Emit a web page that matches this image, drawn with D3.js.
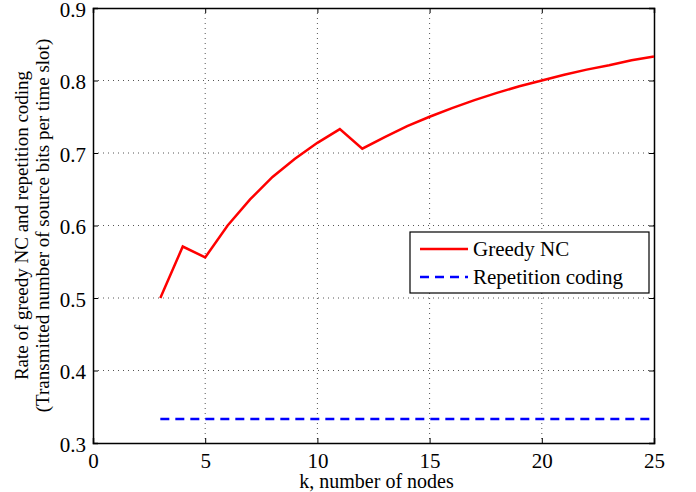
<!DOCTYPE html>
<html>
<head>
<meta charset="utf-8">
<script src="https://cdn.jsdelivr.net/npm/d3@7"></script>
<style>
  body { margin: 0; background: #fff; }
  svg text { font-family: "Liberation Serif", "DejaVu Serif", serif !important; fill: #000; }
</style>
</head>
<body>
<div class="chart"></div>
<script>
var nodes = [3, 4, 5, 6, 7, 8, 9, 10, 11, 12, 13, 14, 15, 16, 17, 18, 19, 20, 21, 22, 23, 24, 25];
var greedyNC = [0.500, 0.571, 0.556, 0.600, 0.636, 0.667, 0.692, 0.714, 0.733, 0.706, 0.722, 0.737,
  0.750, 0.762, 0.773, 0.783, 0.792, 0.800, 0.808, 0.815, 0.821, 0.828, 0.833];
var repetition = [0.333, 0.333, 0.333, 0.333, 0.333, 0.333, 0.333, 0.333, 0.333, 0.333, 0.333, 0.333,
  0.333, 0.333, 0.333, 0.333, 0.333, 0.333, 0.333, 0.333, 0.333, 0.333, 0.333];
var xTicks = [0, 5, 10, 15, 20, 25];
var yTicks = [0.3, 0.4, 0.5, 0.6, 0.7, 0.8, 0.9];

// plot box (window.top is reserved, so use other names)
var pLeft = 93, pRight = 654, pTop = 8, pBottom = 443;

var svg = d3.select('.chart')
  .append('svg')
    .attr('width', 696)
    .attr('height', 492);

var x = d3.scaleLinear().domain([0, 25]).range([pLeft, pRight]);
var y = d3.scaleLinear().domain([0.3, 0.9]).range([pBottom, pTop]);

// dotted grid
svg.append('g')
  .selectAll('line')
  .data(xTicks.slice(1, -1))
  .enter().append('line')
    .attr('x1', d => x(d)).attr('x2', d => x(d))
    .attr('y1', pTop).attr('y2', pBottom)
    .attr('stroke', '#555').attr('stroke-width', 1)
    .attr('stroke-dasharray', '1,4');

svg.append('g')
  .selectAll('line')
  .data(yTicks.slice(1, -1))
  .enter().append('line')
    .attr('x1', pLeft).attr('x2', pRight)
    .attr('y1', d => y(d)).attr('y2', d => y(d))
    .attr('stroke', '#555').attr('stroke-width', 1)
    .attr('stroke-dasharray', '1,4');

// axes with inward ticks, matlab style
var fmtY = d3.format('.1f');
svg.append('g')
  .attr('transform', 'translate(0,' + pBottom + ')')
  .call(d3.axisBottom(x).tickValues(xTicks).tickSize(-5).tickPadding(10))
  .call(g => g.selectAll('text').attr('font-size', 21).attr('dy', '0.71em'));
svg.append('g')
  .attr('transform', 'translate(0,' + pTop + ')')
  .call(d3.axisTop(x).tickValues(xTicks).tickSize(-5).tickFormat(''));
svg.append('g')
  .attr('transform', 'translate(' + pLeft + ',0)')
  .call(d3.axisLeft(y).tickValues(yTicks).tickSize(-5).tickPadding(7).tickFormat(fmtY))
  .call(g => g.selectAll('text').attr('font-size', 21).attr('dy', '0.4em'));
svg.append('g')
  .attr('transform', 'translate(' + pRight + ',0)')
  .call(d3.axisRight(y).tickValues(yTicks).tickSize(-5).tickFormat(''));

svg.selectAll('.domain').attr('stroke', '#000').attr('stroke-width', 1.5);
svg.selectAll('.tick line').attr('stroke', '#000');

// lines
var line = d3.line()
  .x((d, i) => x(nodes[i]))
  .y(d => y(d));

svg.append('path')
  .datum(greedyNC)
  .attr('d', line)
  .attr('fill', 'none')
  .attr('stroke', '#ff0000')
  .attr('stroke-width', 2.5);

svg.append('path')
  .datum(repetition)
  .attr('d', line)
  .attr('fill', 'none')
  .attr('stroke', '#0000ff')
  .attr('stroke-width', 2.5)
  .attr('stroke-dasharray', '9,6');

// legend
var legend = svg.append('g').attr('transform', 'translate(410,232)');
legend.append('rect')
  .attr('width', 239).attr('height', 61)
  .attr('fill', '#fff').attr('stroke', '#000').attr('stroke-width', 1.2);
legend.append('line')
  .attr('x1', 10).attr('x2', 58).attr('y1', 17).attr('y2', 17)
  .attr('stroke', '#ff0000').attr('stroke-width', 2.5);
legend.append('line')
  .attr('x1', 10).attr('x2', 58).attr('y1', 45).attr('y2', 45)
  .attr('stroke', '#0000ff').attr('stroke-width', 2.5)
  .attr('stroke-dasharray', '9,6');
legend.append('text').attr('x', 63).attr('y', 24).attr('font-size', 21).text('Greedy NC');
legend.append('text').attr('x', 63).attr('y', 52).attr('font-size', 21).text('Repetition coding');

// axis labels
svg.append('text')
  .attr('x', (pLeft + pRight) / 2 + 3).attr('y', 488)
  .attr('text-anchor', 'middle').attr('font-size', 20)
  .text('k, number of nodes');

var ylab = svg.append('text')
  .attr('transform', 'translate(28,' + (pTop + pBottom) / 2 + ') rotate(-90)')
  .attr('text-anchor', 'middle').attr('font-size', 19);
ylab.append('tspan').attr('x', 0).attr('y', 0).text('Rate of greedy NC and repetition coding');
ylab.append('tspan').attr('x', 0).attr('y', 21).text('(Transmitted number of source bits per time slot)');
</script>
</body>
</html>
